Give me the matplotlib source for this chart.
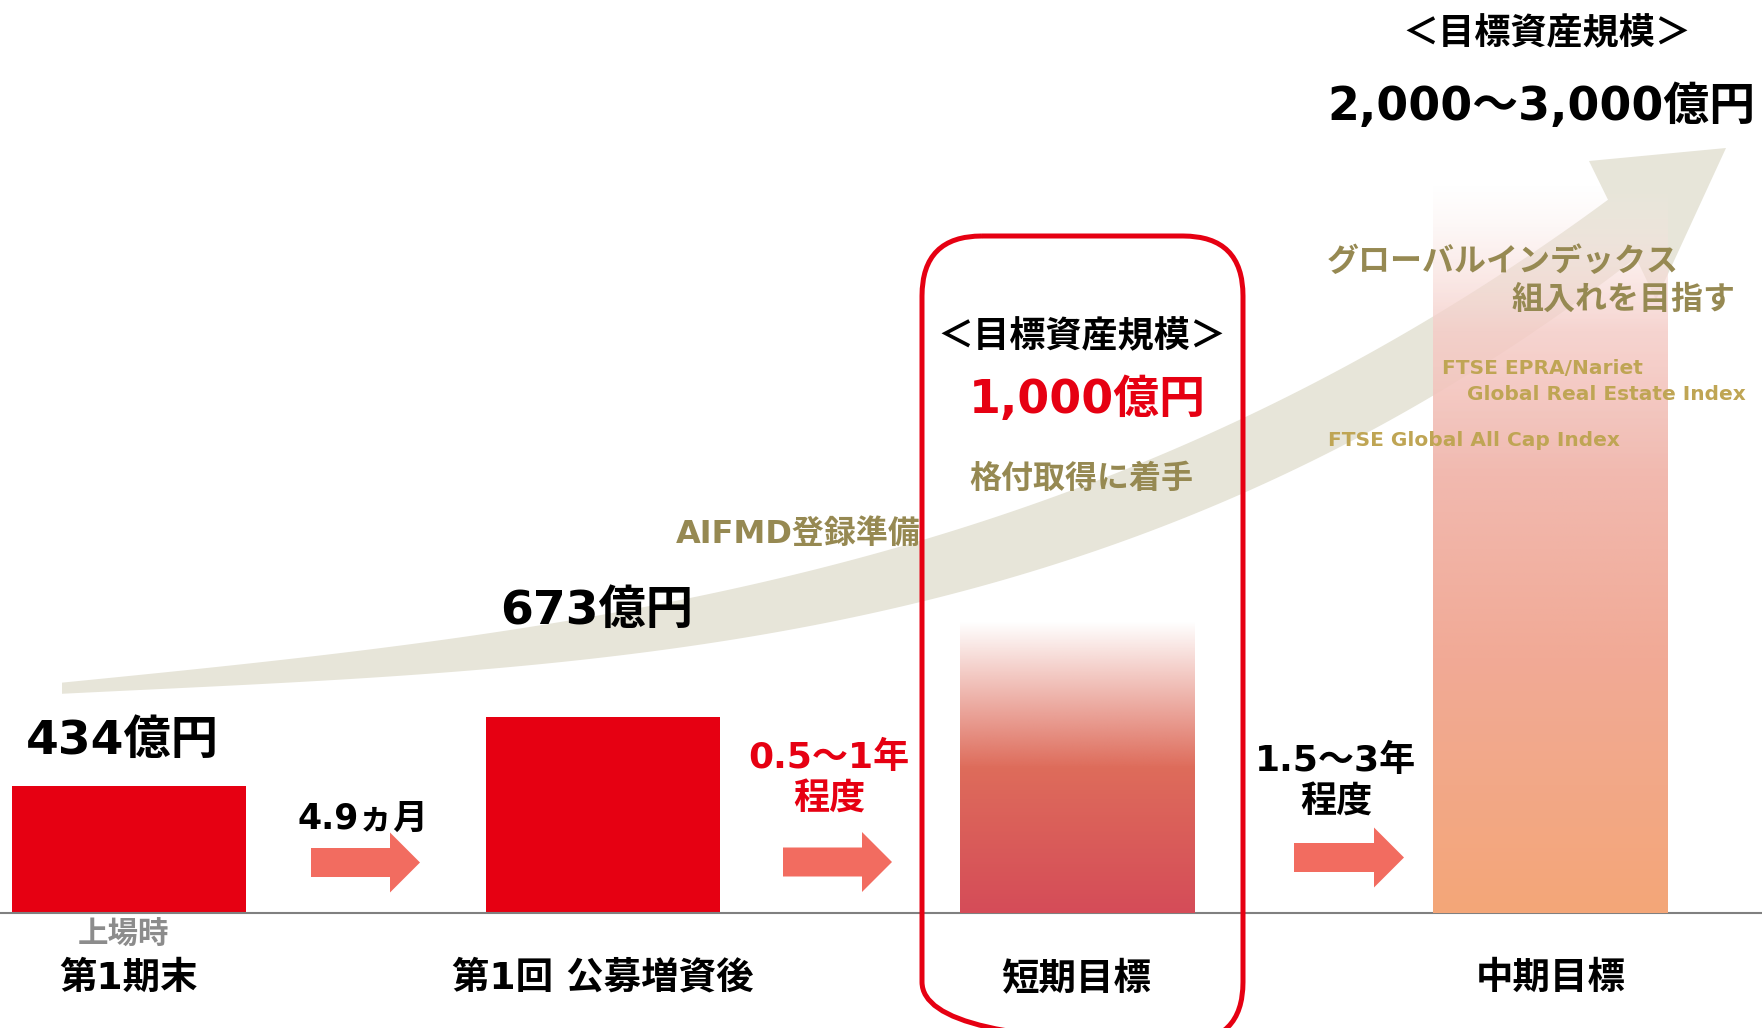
import numpy as np
import matplotlib
matplotlib.use("Agg")
import matplotlib.pyplot as plt
import matplotlib.transforms as mtransforms
from matplotlib.patches import Polygon, FancyArrow, FancyBboxPatch

plt.rcParams['font.family'] = ['DejaVu Sans', 'Noto Sans CJK JP']

# --- data ---
categories = ['第1期末', '第1回 公募増資後', '短期目標', '中期目標']
assets = [434, 673, 1000, 2500]          # 億円 (中期目標は2,000～3,000の中間)
value_labels = ['434億円', '673億円', '1,000億円', '2,000～3,000億円']
periods = ['4.9ヵ月', '0.5～1年\n程度', '1.5～3年\n程度']
milestones = ['AIFMD登録準備', '格付取得に着手', 'グローバルインデックス', '組入れを目指す']
indices = ['FTSE EPRA/Nariet', 'Global Real Estate Index', 'FTSE Global All Cap Index']
target_title = '＜目標資産規模＞'
ipo_note = '上場時'

RED = '#E60012'
OLIVE = '#968952'
GOLD = '#BFA554'
BEIGE = '#E7E5D9'
SALMON = '#F26C60'

W, H = 1762, 1028
fig = plt.figure(figsize=(W / 100, H / 100), dpi=100)
ax = fig.add_axes([0, 0, 1, 1])
ax.axis('off')

# pixel coords (origin top-left) for decorations
px = mtransforms.Affine2D().scale(1.0 / W, -1.0 / H).translate(0, 1) + fig.transFigure
catx = mtransforms.blended_transform_factory(ax.transData, px)

# --- big beige curved arrow ---
up_x = [62, 250, 500, 650, 833, 950, 1250, 1450, 1608]
up_y = [683, 662, 634, 605, 565, 530, 417, 305, 200]
lo_x = [62, 250, 500, 650, 950, 1250, 1450, 1636]
lo_y = [693, 686, 670, 647, 597, 490, 385, 258]
xu = np.linspace(62, 1608, 200)
yu = np.polyval(np.polyfit(up_x, up_y, 3), xu)
xl = np.linspace(62, 1636, 200)
yl = np.polyval(np.polyfit(lo_x, lo_y, 3), xl)
pts = list(zip(xu, yu)) + [(1589, 161), (1726, 148), (1656, 300)] + list(zip(xl[::-1], yl[::-1]))
ax.add_patch(Polygon(pts, closed=True, transform=px, facecolor=BEIGE, edgecolor='none', zorder=1))

# --- bars ---
bars = ax.bar(range(len(assets)), assets, width=0.494,
              color=[RED, RED, 'none', 'none'], edgecolor='none', zorder=2)
ax.axhline(0, color='#808080', lw=1.5, zorder=2.5)


def fill_gradient(bar, fracs, colors, alphas):
    f = np.linspace(0, 1, 256)
    rgba = np.zeros((256, 1, 4))
    for c in range(3):
        rgba[:, 0, c] = np.interp(f, fracs, [col[c] for col in colors]) / 255
    rgba[:, 0, 3] = np.interp(f, fracs, alphas)
    x0 = bar.get_x()
    ax.imshow(rgba, extent=[x0, x0 + bar.get_width(), 0, bar.get_height()],
              origin='lower', aspect='auto', interpolation='bilinear', zorder=3)


fill_gradient(bars[2], [0, 0.5, 0.75, 1.0],
              [(213, 76, 88), (222, 108, 91), (222, 108, 91), (222, 108, 91)],
              [1, 1, 0.5, 0])
fill_gradient(bars[3], [0, 0.35, 0.6, 0.8, 0.9, 1.0],
              [(244, 166, 120), (241, 170, 150), (241, 185, 175),
               (245, 205, 200), (248, 222, 218), (250, 235, 232)],
              [1, 1, 1, 0.85, 0.5, 0])

k = 0.2915
ax.set_xlim(-129 / 473.8, (W - 129) / 473.8)
ax.set_ylim(-115 / k, 913 / k)

# --- red rounded box around 短期目標 ---
ax.add_patch(FancyBboxPatch((922, 236), 321, 806, boxstyle='round,pad=0,rounding_size=60',
                            transform=px, fill=False, edgecolor=RED, lw=3.6, zorder=4))

# --- small arrows ---
for x0, y0, ln in [(311, 862.5, 109), (783, 862, 109), (1294, 857.5, 110)]:
    ax.add_patch(FancyArrow(x0, y0, ln, 0, width=29, head_width=60, head_length=30,
                            length_includes_head=True, transform=px,
                            facecolor=SALMON, edgecolor='none', zorder=4))

# --- texts ---
def t(x, y, s, size, color='black', ha='center', tr=px):
    ax.text(x, y + 4, s, transform=tr, fontsize=size, fontweight='bold', color=color,
            ha=ha, va='center', zorder=5, linespacing=1.3)


for i, c in enumerate(categories):
    t(i, 975, c, 27, tr=catx)
t(123, 931, ipo_note, 22, color='#8C8C8C')

t(122, 737, value_labels[0], 34)
t(597, 607, value_labels[1], 34)
t(1082, 333, target_title, 26)
t(1087, 396, value_labels[2], 33, color=RED)
t(1547, 30, target_title, 26)
t(1541, 103, value_labels[3], 33)

t(363, 815, periods[0], 25)
t(829, 775, periods[1], 26, color=RED)
t(1336, 778, periods[2], 26)

t(798, 530, milestones[0], 23, color=OLIVE)
t(1081, 475, milestones[1], 23, color=OLIVE)
t(1503, 259, milestones[2], 23, color=OLIVE)
t(1624, 296, milestones[3], 23, color=OLIVE)

t(1542, 364, indices[0], 14.5, color=GOLD)
t(1606, 391, indices[1], 14.5, color=GOLD)
t(1474, 437, indices[2], 14.5, color=GOLD)

fig.savefig('out.png', dpi=100)
